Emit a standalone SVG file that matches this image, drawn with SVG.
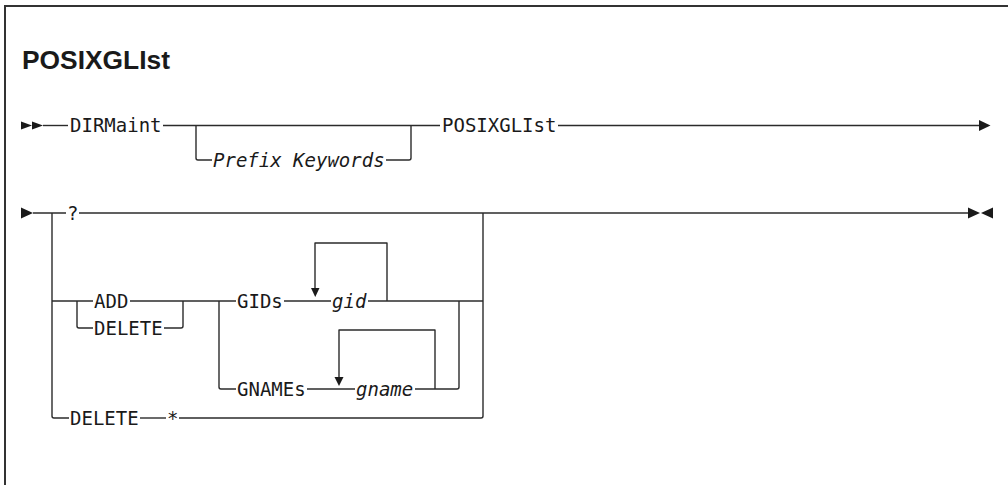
<svg xmlns="http://www.w3.org/2000/svg" width="1008" height="485" viewBox="0 0 1008 485">
<style>
.ln{fill:none;stroke:#2b2b2b;stroke-width:1.4;stroke-linejoin:round;}
.ar{fill:#1a1a1a;stroke:none;}
.kw{font-family:"DejaVu Sans Mono","Liberation Mono",monospace;font-size:19px;fill:#1a1a1a;}
.var{font-family:"DejaVu Sans Mono","Liberation Mono",monospace;font-size:19px;font-style:italic;fill:#1a1a1a;}
.title{font-family:"Liberation Sans",Arial,sans-serif;font-size:25px;font-weight:bold;fill:#1a1a1a;}
</style>
<rect width="1008" height="485" fill="#ffffff"/>
<path d="M5 485 V6 H1008" fill="none" stroke="#333" stroke-width="2"/>
<g id="title"><text class="title" x="22" y="69" textLength="148" lengthAdjust="spacingAndGlyphs">POSIXGLIst</text></g>

<g id="connectors">
  <!-- row 1 -->
  <polygon class="ar" points="21,121.5 32,125.5 21,129.5"/>
  <polygon class="ar" points="32,121.5 43,125.5 32,129.5"/>
  <path class="ln" d="M43 125.5 H68"/>
  <path class="ln" d="M163 125.5 H440"/>
  <path class="ln" d="M196 125.5 V158 Q196 160 198 160 H212"/>
  <path class="ln" d="M386 160 H409 Q411 160 411 158 V125.5"/>
  <path class="ln" d="M558 125.5 H979"/>
  <polygon class="ar" points="979,120 990.5,125.5 979,131"/>
  <!-- row 2 -->
  <polygon class="ar" points="21,207.5 33,213 21,218.5"/>
  <path class="ln" d="M33 213 H66"/>
  <path class="ln" d="M79 213 H968"/>
  <polygon class="ar" points="968,207.5 980,213 968,218.5"/>
  <polygon class="ar" points="993,207.5 981,213 993,218.5"/>
  <path class="ln" d="M52 213 V416 Q52 418 54 418 H69"/>
  <path class="ln" d="M52 301 H93"/>
  <path class="ln" d="M77 301 V326 Q77 328 79 328 H93"/>
  <path class="ln" d="M130 301 H236"/>
  <path class="ln" d="M164 328 H181 Q183 328 183 326 V301"/>
  <path class="ln" d="M284 301 H331"/>
  <path class="ln" d="M368 301 H483"/>
  <path class="ln" d="M387 301 V243 H315 V288"/>
  <polygon class="ar" points="311,288 319.5,288 315.25,297"/>
  <path class="ln" d="M219 301 V387 Q219 389 221 389 H236"/>
  <path class="ln" d="M307 389 H355"/>
  <path class="ln" d="M415 389 H457 Q459 389 459 387 V301"/>
  <path class="ln" d="M435 389 V330 H339 V377"/>
  <polygon class="ar" points="334.5,377 343.5,377 339,386"/>
  <path class="ln" d="M140 418 H166"/>
  <path class="ln" d="M179 418 H481 Q483 418 483 416 V213"/>
</g>

<g id="node-dirmaint"><text class="kw" x="70" y="132">DIRMaint</text></g>
<g id="node-prefix"><text class="var" x="213" y="167">Prefix Keywords</text></g>
<g id="node-posixglist"><text class="kw" x="442" y="132">POSIXGLIst</text></g>
<g id="node-q"><text class="kw" x="67" y="220">?</text></g>
<g id="node-add"><text class="kw" x="94" y="308">ADD</text></g>
<g id="node-delete1"><text class="kw" x="94" y="335">DELETE</text></g>
<g id="node-gids"><text class="kw" x="237" y="308">GIDs</text></g>
<g id="node-gid"><text class="var" x="332" y="308">gid</text></g>
<g id="node-gnames"><text class="kw" x="237" y="396">GNAMEs</text></g>
<g id="node-gname"><text class="var" x="356" y="396">gname</text></g>
<g id="node-delete2"><text class="kw" x="70" y="425">DELETE</text></g>
<g id="node-star"><text class="kw" x="167" y="425">*</text></g>
</svg>
